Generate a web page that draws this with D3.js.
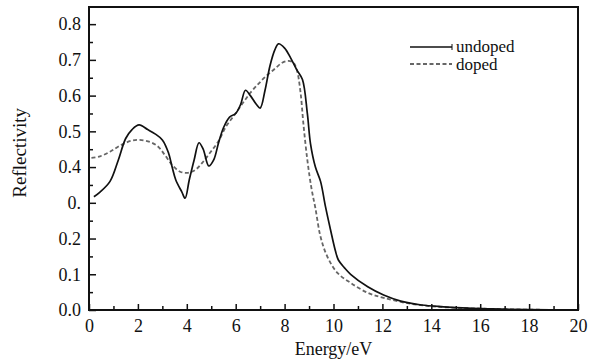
<!DOCTYPE html>
<html>
<head>
<meta charset="utf-8">
<script src="https://cdn.jsdelivr.net/npm/d3@7"></script>
<style>
  body { margin: 0; background: #fff; }
  svg text { font-family: 'Liberation Serif', 'Times New Roman', serif; fill: #111; }
</style>
</head>
<body>
<div id="root"></div>
<script>
// energy (eV) and reflectivity
const undopedE = [0.2, 0.45, 0.86, 1.2, 1.5, 1.76, 2.05, 2.4, 2.7, 3.0, 3.25, 3.4, 3.55, 3.8, 3.93, 4.1, 4.3, 4.5, 4.67, 4.9, 5.1, 5.3, 5.5, 5.75, 6.0, 6.2, 6.4, 6.6, 6.85, 7.0, 7.2, 7.4, 7.6, 7.75, 8.0, 8.25, 8.5, 8.73, 8.93, 9.06, 9.26, 9.47, 9.67, 9.88, 10.08, 10.2, 10.45, 10.7, 11.4, 12.05, 12.75, 13.6, 14.5, 15.5, 16.5, 18.0, 20.0]
const undopedR = [0.317, 0.33, 0.36, 0.42, 0.48, 0.505, 0.518, 0.505, 0.493, 0.476, 0.44, 0.40, 0.364, 0.33, 0.313, 0.364, 0.42, 0.468, 0.45, 0.403, 0.42, 0.468, 0.51, 0.54, 0.55, 0.575, 0.615, 0.60, 0.575, 0.565, 0.615, 0.683, 0.728, 0.745, 0.733, 0.705, 0.672, 0.645, 0.55, 0.465, 0.40, 0.36, 0.29, 0.224, 0.165, 0.14, 0.118, 0.10, 0.065, 0.042, 0.025, 0.014, 0.009, 0.005, 0.003, 0.001, 0.0]
const dopedE = [0.1, 0.45, 0.86, 1.27, 1.7, 2.05, 2.5, 2.83, 3.1, 3.4, 3.73, 4.05, 4.35, 4.63, 4.95, 5.3, 5.6, 5.95, 6.27, 6.6, 6.93, 7.25, 7.6, 7.9, 8.15, 8.36, 8.5, 8.65, 8.77, 8.93, 9.1, 9.26, 9.47, 9.75, 10.16, 10.7, 11.4, 12.05, 13.2, 14.5, 16.0, 18.0, 20.0]
const dopedR = [0.426, 0.43, 0.443, 0.46, 0.473, 0.476, 0.47, 0.457, 0.434, 0.406, 0.387, 0.384, 0.392, 0.412, 0.44, 0.473, 0.513, 0.546, 0.577, 0.608, 0.633, 0.655, 0.675, 0.692, 0.697, 0.692, 0.672, 0.61, 0.52, 0.42, 0.34, 0.285, 0.205, 0.149, 0.104, 0.076, 0.048, 0.034, 0.017, 0.008, 0.004, 0.001, 0.0]

const xTicks = [0, 2, 4, 6, 8, 10, 12, 14, 16, 18, 20]
const yTicks = [0, 0.1, 0.2, 0.3, 0.4, 0.5, 0.6, 0.7, 0.8]
const yTickLabels = ['0.0', '0.1', '0.2', '0.', '0.4', '0.5', '0.6', '0.7', '0.8']
const seriesNames = ['undoped', 'doped']

const width = 598
const height = 359
const margin = { left: 89, right: 20, top: 7, bottom: 49 }
const serif = "'Liberation Serif', 'Times New Roman', serif"

const svg = d3.select('#root').append('svg').attr('width', width).attr('height', height)

const x = d3.scaleLinear().domain([0, 20]).range([margin.left, width - margin.right])
const y = d3.scaleLinear().domain([0, 0.848]).range([height - margin.bottom, margin.top])

const line = d3
  .line()
  .x((d) => x(d[0]))
  .y((d) => y(d[1]))
  .curve(d3.curveCatmullRom.alpha(0.5))

const undoped = undopedE.map((e, i) => [e, undopedR[i]])
const doped = dopedE.map((e, i) => [e, dopedR[i]])

svg
  .append('path')
  .datum(doped)
  .attr('d', line)
  .attr('fill', 'none')
  .attr('stroke', '#666')
  .attr('stroke-width', 1.8)
  .attr('stroke-dasharray', '4,2.5')

svg
  .append('path')
  .datum(undoped)
  .attr('d', line)
  .attr('fill', 'none')
  .attr('stroke', '#111')
  .attr('stroke-width', 1.7)

// axes, ticks pointing inward (minor at odd eV / every 0.05)
const xAxis = d3
  .axisBottom(x)
  .tickValues(d3.range(0, 21, 1))
  .tickSize(0)
  .tickFormat((d) => (xTicks.includes(d) ? d : ''))
const gx = svg
  .append('g')
  .attr('transform', `translate(0,${y(0)})`)
  .call(xAxis)
  .attr('font-family', serif)
  .attr('font-size', 18)
gx.select('.domain').remove()
gx.selectAll('.tick line')
  .attr('y2', (d) => (d % 2 === 0 ? -6 : -4))
  .attr('stroke', '#111')
  .attr('stroke-width', 1.5)
gx.selectAll('.tick text').attr('y', 9).attr('dy', '0.71em')

const yAxis = d3
  .axisLeft(y)
  .tickValues(d3.range(0, 17, 1).map((i) => i * 0.05))
  .tickSize(0)
  .tickFormat((d) => {
    const i = yTicks.findIndex((t) => Math.abs(t - d) < 1e-6)
    return i >= 0 ? yTickLabels[i] : ''
  })
const gy = svg
  .append('g')
  .attr('transform', `translate(${x(0)},0)`)
  .call(yAxis)
  .attr('font-family', serif)
  .attr('font-size', 18)
gy.select('.domain').remove()
gy.selectAll('.tick line')
  .attr('x2', (d, i) => (i % 2 === 0 ? 7 : 4))
  .attr('stroke', '#111')
  .attr('stroke-width', 1.5)
gy.selectAll('.tick text').attr('x', -8)

// frame
svg
  .append('rect')
  .attr('x', x(0))
  .attr('y', y(0.848))
  .attr('width', x(20) - x(0))
  .attr('height', y(0) - y(0.848))
  .attr('fill', 'none')
  .attr('stroke', '#111')
  .attr('stroke-width', 2)

svg
  .append('text')
  .attr('x', (x(0) + x(20)) / 2)
  .attr('y', 355)
  .attr('text-anchor', 'middle')
  .style('font-size', '18px')
  .text('Energy/eV')

svg
  .append('text')
  .attr('transform', `translate(26,${y(0.44)}) rotate(-90)`)
  .attr('text-anchor', 'middle')
  .style('font-size', '19px')
  .text('Reflectivity')

// legend
const legend = svg.append('g').attr('transform', 'translate(410,47)')
legend
  .append('line')
  .attr('x1', 0)
  .attr('x2', 42)
  .attr('stroke', '#111')
  .attr('stroke-width', 1.6)
legend
  .append('line')
  .attr('x1', 42)
  .attr('x2', 42)
  .attr('y1', -3)
  .attr('y2', 3)
  .attr('stroke', '#111')
  .attr('stroke-width', 1)
legend
  .append('line')
  .attr('x1', 0)
  .attr('x2', 42)
  .attr('y1', 17)
  .attr('y2', 17)
  .attr('stroke', '#666')
  .attr('stroke-width', 1.8)
  .attr('stroke-dasharray', '4,2.5')
legend
  .selectAll('text.lbl')
  .data(seriesNames)
  .join('text')
  .attr('class', 'lbl')
  .attr('x', 46)
  .attr('y', (d, i) => i * 18 + 5)
  .style('font-size', '17px')
  .text((d) => d)
</script>
</body>
</html>
